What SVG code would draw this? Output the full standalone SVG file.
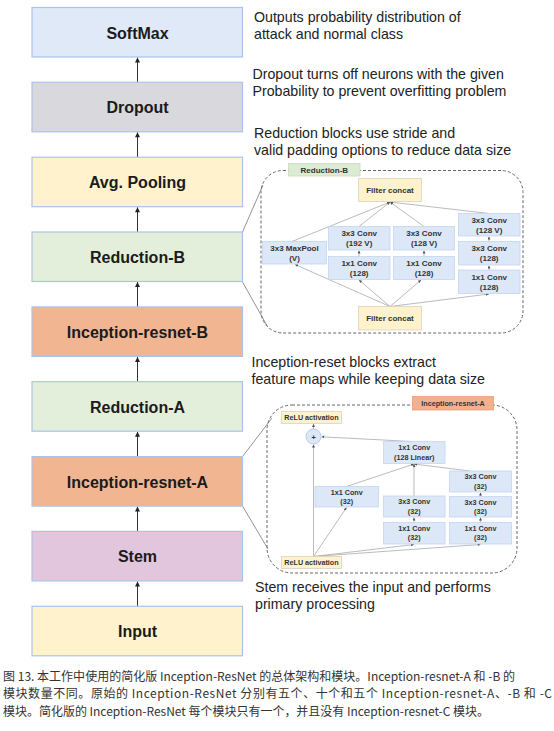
<svg xmlns="http://www.w3.org/2000/svg" width="554" height="731" viewBox="0 0 554 731">
<defs>
<style>
.box{stroke:#a9c4ec;stroke-width:1.2}
.main{font-family:"Liberation Sans",Arial,sans-serif;font-weight:bold;font-size:16px;fill:#1b1b1b;text-anchor:middle}
.note{font-family:"Liberation Sans",Arial,sans-serif;font-size:14.2px;fill:#222}
.nb{fill:#dce7f7;stroke:#c3d5ef;stroke-width:0.8}
.fc{fill:#fff2cc;stroke:#d9d4c0;stroke-width:0.8}
.tB{font-family:"Liberation Sans",Arial,sans-serif;font-weight:bold;font-size:8px;fill:#333;text-anchor:middle}
.tA{font-family:"Liberation Sans",Arial,sans-serif;font-weight:bold;font-size:7.2px;fill:#333;text-anchor:middle}
.dash{fill:none;stroke:#666;stroke-width:1;stroke-dasharray:3 2}
.arr{stroke:#333;stroke-width:1;fill:none}
.thin{stroke:#aaa;stroke-width:0.8;fill:none}
.lead{stroke:#777;stroke-width:0.8;fill:none}
.cap{font-family:"Noto Sans CJK SC","Noto Sans",sans-serif;font-size:12px;fill:#333}
</style>
<marker id="ah" viewBox="0 0 6 6" refX="6" refY="3" markerWidth="6" markerHeight="5" markerUnits="userSpaceOnUse" orient="auto">
<path d="M0,0 L6,3 L0,6 z" fill="#222"/>
</marker>
<marker id="ahs" viewBox="0 0 6 6" refX="6" refY="3" markerWidth="3" markerHeight="3" markerUnits="userSpaceOnUse" orient="auto">
<path d="M0,0 L6,3 L0,6 z" fill="#555"/>
</marker>
</defs>
<rect width="554" height="731" fill="#fff"/>

<!-- Connectors -->
<g id="connectors">
<line class="arr" x1="137.5" y1="82.3" x2="137.5" y2="57.5" marker-end="url(#ah)"/>
<line class="arr" x1="137.5" y1="157.2" x2="137.5" y2="132.3" marker-end="url(#ah)"/>
<line class="arr" x1="137.5" y1="232" x2="137.5" y2="207.2" marker-end="url(#ah)"/>
<line class="arr" x1="137.5" y1="306.9" x2="137.5" y2="282" marker-end="url(#ah)"/>
<line class="arr" x1="137.5" y1="381.7" x2="137.5" y2="356.9" marker-end="url(#ah)"/>
<line class="arr" x1="137.5" y1="456.6" x2="137.5" y2="431.7" marker-end="url(#ah)"/>
<line class="arr" x1="137.5" y1="531.4" x2="137.5" y2="506.6" marker-end="url(#ah)"/>
<line class="arr" x1="137.5" y1="606.3" x2="137.5" y2="581.4" marker-end="url(#ah)"/>
<!-- leader lines to insets -->
<line class="lead" x1="242.5" y1="232" x2="263" y2="185"/>
<line class="lead" x1="242.5" y1="282" x2="267.5" y2="326.5"/>
<line class="lead" x1="242.5" y1="456.6" x2="272" y2="418"/>
<line class="lead" x1="242.5" y1="506" x2="268" y2="549"/>
<!-- Reduction-B inset -->
<line class="thin" x1="390" y1="306.5" x2="295" y2="264.5" marker-end="url(#ahs)"/>
<line class="thin" x1="390" y1="306.5" x2="359" y2="280" marker-end="url(#ahs)"/>
<line class="thin" x1="390" y1="306.5" x2="421" y2="280" marker-end="url(#ahs)"/>
<line class="thin" x1="390" y1="306.5" x2="489" y2="294" marker-end="url(#ahs)"/>
<line class="thin" x1="292" y1="241.5" x2="390" y2="202" marker-end="url(#ahs)"/>
<line class="thin" x1="359" y1="226.5" x2="390" y2="202" marker-end="url(#ahs)"/>
<line class="thin" x1="424" y1="226.5" x2="390" y2="202" marker-end="url(#ahs)"/>
<line class="thin" x1="489" y1="213.5" x2="390" y2="202" marker-end="url(#ahs)"/>
<line class="thin" x1="359" y1="256.5" x2="359" y2="250.5" marker-end="url(#ahs)"/>
<line class="thin" x1="424" y1="256.5" x2="424" y2="250.5" marker-end="url(#ahs)"/>
<line class="thin" x1="489" y1="270" x2="489" y2="265.5" marker-end="url(#ahs)"/>
<line class="thin" x1="489" y1="241.5" x2="489" y2="236.5" marker-end="url(#ahs)"/>
<!-- Inception-resnet-A inset -->
<line class="thin" x1="313.5" y1="556.5" x2="313.5" y2="444.5" marker-end="url(#ahs)"/>
<line class="thin" x1="313.5" y1="556.5" x2="346.5" y2="507.5" marker-end="url(#ahs)"/>
<line class="thin" x1="313.5" y1="556.5" x2="414" y2="544.5" marker-end="url(#ahs)"/>
<line class="thin" x1="313.5" y1="556.5" x2="480.5" y2="544.5" marker-end="url(#ahs)"/>
<line class="thin" x1="414" y1="522.5" x2="414" y2="517.5" marker-end="url(#ahs)"/>
<line class="thin" x1="414" y1="496" x2="414" y2="464" marker-end="url(#ahs)"/>
<line class="thin" x1="346.5" y1="486.5" x2="414" y2="464" marker-end="url(#ahs)"/>
<line class="thin" x1="470" y1="471" x2="414" y2="464" marker-end="url(#ahs)"/>
<line class="thin" x1="480.5" y1="522.5" x2="480.5" y2="517.5" marker-end="url(#ahs)"/>
<line class="thin" x1="480.5" y1="496.5" x2="480.5" y2="492.5" marker-end="url(#ahs)"/>
<line class="thin" x1="412" y1="441.5" x2="321.5" y2="436.8" marker-end="url(#ahs)"/>
<line class="thin" x1="313.5" y1="429" x2="313.5" y2="424" marker-end="url(#ahs)"/>
</g>

<!-- Main column -->
<g id="softmax"><rect class="box" x="32" y="7.5" width="210.5" height="49.5" fill="#dfe9f7"/><text class="main" x="137.5" y="38.5">SoftMax</text></g>
<g id="dropout"><rect class="box" x="32" y="82.3" width="210.5" height="49.5" fill="#d9d8dc"/><text class="main" x="137.5" y="113.3">Dropout</text></g>
<g id="avgpool"><rect class="box" x="32" y="157.2" width="210.5" height="49.5" fill="#fff2cc"/><text class="main" x="137.5" y="188.2">Avg. Pooling</text></g>
<g id="reductionB"><rect class="box" x="32" y="232" width="210.5" height="49.5" fill="#e3efda"/><text class="main" x="137.5" y="263">Reduction-B</text></g>
<g id="incB"><rect class="box" x="32" y="306.9" width="210.5" height="49.5" fill="#f2b592"/><text class="main" x="137.5" y="337.9">Inception-resnet-B</text></g>
<g id="reductionA"><rect class="box" x="32" y="381.7" width="210.5" height="49.5" fill="#e3efda"/><text class="main" x="137.5" y="412.7">Reduction-A</text></g>
<g id="incA"><rect class="box" x="32" y="456.6" width="210.5" height="49.5" fill="#f2b592"/><text class="main" x="137.5" y="487.6">Inception-resnet-A</text></g>
<g id="stem"><rect class="box" x="32" y="531.4" width="210.5" height="49.5" fill="#e2c6dd"/><text class="main" x="137.5" y="562.4">Stem</text></g>
<g id="input"><rect class="box" x="32" y="606.3" width="210.5" height="49.5" fill="#fff2cc"/><text class="main" x="137.5" y="637.3">Input</text></g>

<!-- Annotations -->
<g id="notes">
<text class="note" x="254" y="22">Outputs probability distribution of</text>
<text class="note" x="254" y="39">attack and normal class</text>
<text class="note" x="252.5" y="79">Dropout turns off neurons with the given</text>
<text class="note" x="252.5" y="96">Probability to prevent overfitting problem</text>
<text class="note" x="254" y="138">Reduction blocks use stride and</text>
<text class="note" x="254" y="155">valid padding options to reduce data size</text>
<text class="note" x="251.5" y="367">Inception-reset blocks extract</text>
<text class="note" x="251.5" y="384">feature maps while keeping data size</text>
<text class="note" x="255" y="592">Stem receives the input and performs</text>
<text class="note" x="255" y="608.5">primary processing</text>
</g>

<!-- Reduction-B inset -->
<g id="insetB">
<rect class="dash" x="261" y="170.5" width="262" height="162.5" rx="22" ry="22"/>
<g id="rb-label"><rect x="288.5" y="163.5" width="71.5" height="12.5" fill="#dcebd4" stroke="#c8dbbf" stroke-width="0.8"/><text class="tB" x="324.3" y="172.6">Reduction-B</text></g>
<g id="rb-fc-top"><rect class="fc" x="358.5" y="178.5" width="63" height="23"/><text class="tB" x="390" y="192.8">Filter concat</text></g>
<g id="rb-maxpool"><rect class="nb" x="262.5" y="241.5" width="64" height="22.5"/><text class="tB" x="294.5" y="250.8">3x3 MaxPool</text><text class="tB" x="294.5" y="260.8">(V)</text></g>
<g id="rb-c192"><rect class="nb" x="328.5" y="226.5" width="61.5" height="23.5"/><text class="tB" x="359.2" y="236.3">3x3 Conv</text><text class="tB" x="359.2" y="246.3">(192 V)</text></g>
<g id="rb-c1a"><rect class="nb" x="328.5" y="256.5" width="61.5" height="23"/><text class="tB" x="359.2" y="266.1">1x1 Conv</text><text class="tB" x="359.2" y="276.1">(128)</text></g>
<g id="rb-c128v"><rect class="nb" x="393.5" y="226.5" width="61" height="23.5"/><text class="tB" x="424" y="236.3">3x3 Conv</text><text class="tB" x="424" y="246.3">(128 V)</text></g>
<g id="rb-c1b"><rect class="nb" x="393.5" y="256.5" width="61" height="23"/><text class="tB" x="424" y="266.1">1x1 Conv</text><text class="tB" x="424" y="276.1">(128)</text></g>
<g id="rb-r1"><rect class="nb" x="458.5" y="213.5" width="61.5" height="22.5"/><text class="tB" x="489.2" y="222.8">3x3 Conv</text><text class="tB" x="489.2" y="232.8">(128 V)</text></g>
<g id="rb-r2"><rect class="nb" x="458.5" y="241.5" width="61.5" height="23.5"/><text class="tB" x="489.2" y="251.3">3x3 Conv</text><text class="tB" x="489.2" y="261.3">(128)</text></g>
<g id="rb-r3"><rect class="nb" x="458.5" y="270" width="61.5" height="23.5"/><text class="tB" x="489.2" y="279.8">1x1 Conv</text><text class="tB" x="489.2" y="289.8">(128)</text></g>
<g id="rb-fc-bot"><rect class="fc" x="358.5" y="306.5" width="63" height="23.5"/><text class="tB" x="390" y="321">Filter concat</text></g>
</g>

<!-- Inception-resnet-A inset -->
<g id="insetA">
<rect class="dash" x="267" y="405" width="250" height="168" rx="25" ry="25"/>
<g id="ra-label"><rect x="412.5" y="396.5" width="81" height="13.5" fill="#f3b08d" stroke="#e6a27f" stroke-width="0.8"/><text class="tA" x="453" y="405.8">Inception-resnet-A</text></g>
<g id="ra-relu-top"><rect class="fc" x="281.5" y="411.5" width="60" height="12"/><text class="tA" x="311.5" y="420">ReLU activation</text></g>
<g id="ra-plus"><circle cx="313.5" cy="436.5" r="7.5" fill="#dce7f7" stroke="#a9c4ec" stroke-width="0.8"/><text class="tA" x="313.5" y="439.5" font-size="9px">+</text></g>
<g id="ra-lin"><rect class="nb" x="383.5" y="441.5" width="61.5" height="22"/><text class="tA" x="414.2" y="450.2">1x1 Conv</text><text class="tA" x="414.2" y="459.6">(128 Linear)</text></g>
<g id="ra-l1"><rect class="nb" x="315" y="486.5" width="63.5" height="20.5"/><text class="tA" x="346.7" y="494.6">1x1 Conv</text><text class="tA" x="346.7" y="503.8">(32)</text></g>
<g id="ra-m3"><rect class="nb" x="383.5" y="496" width="61.5" height="21"/><text class="tA" x="414.2" y="504.4">3x3 Conv</text><text class="tA" x="414.2" y="513.6">(32)</text></g>
<g id="ra-m1"><rect class="nb" x="383.5" y="522.5" width="61.5" height="21.5"/><text class="tA" x="414.2" y="531.1">1x1 Conv</text><text class="tA" x="414.2" y="540.3">(32)</text></g>
<g id="ra-r3a"><rect class="nb" x="449.5" y="471" width="62" height="21"/><text class="tA" x="480.5" y="479.4">3x3 Conv</text><text class="tA" x="480.5" y="488.6">(32)</text></g>
<g id="ra-r3b"><rect class="nb" x="449.5" y="496.5" width="62" height="20.5"/><text class="tA" x="480.5" y="504.7">3x3 Conv</text><text class="tA" x="480.5" y="513.9">(32)</text></g>
<g id="ra-r1"><rect class="nb" x="449.5" y="522.5" width="62" height="21.5"/><text class="tA" x="480.5" y="531.1">1x1 Conv</text><text class="tA" x="480.5" y="540.3">(32)</text></g>
<g id="ra-relu-bot"><rect class="fc" x="281.5" y="556.5" width="60" height="12"/><text class="tA" x="311.5" y="565">ReLU activation</text></g>
</g>

<!-- Caption -->
<g id="caption">
<text class="cap" x="3" y="680.5" textLength="512" lengthAdjust="spacing">图 13. 本工作中使用的简化版 Inception-ResNet 的总体架构和模块。Inception-resnet-A 和 -B 的</text>
<text class="cap" x="3" y="698" textLength="549" lengthAdjust="spacing">模块数量不同。原始的 Inception-ResNet 分别有五个、十个和五个 Inception-resnet-A、-B 和 -C</text>
<text class="cap" x="3" y="715.5" textLength="486" lengthAdjust="spacing">模块。简化版的 Inception-ResNet 每个模块只有一个，并且没有 Inception-resnet-C 模块。</text>
</g>
</svg>
